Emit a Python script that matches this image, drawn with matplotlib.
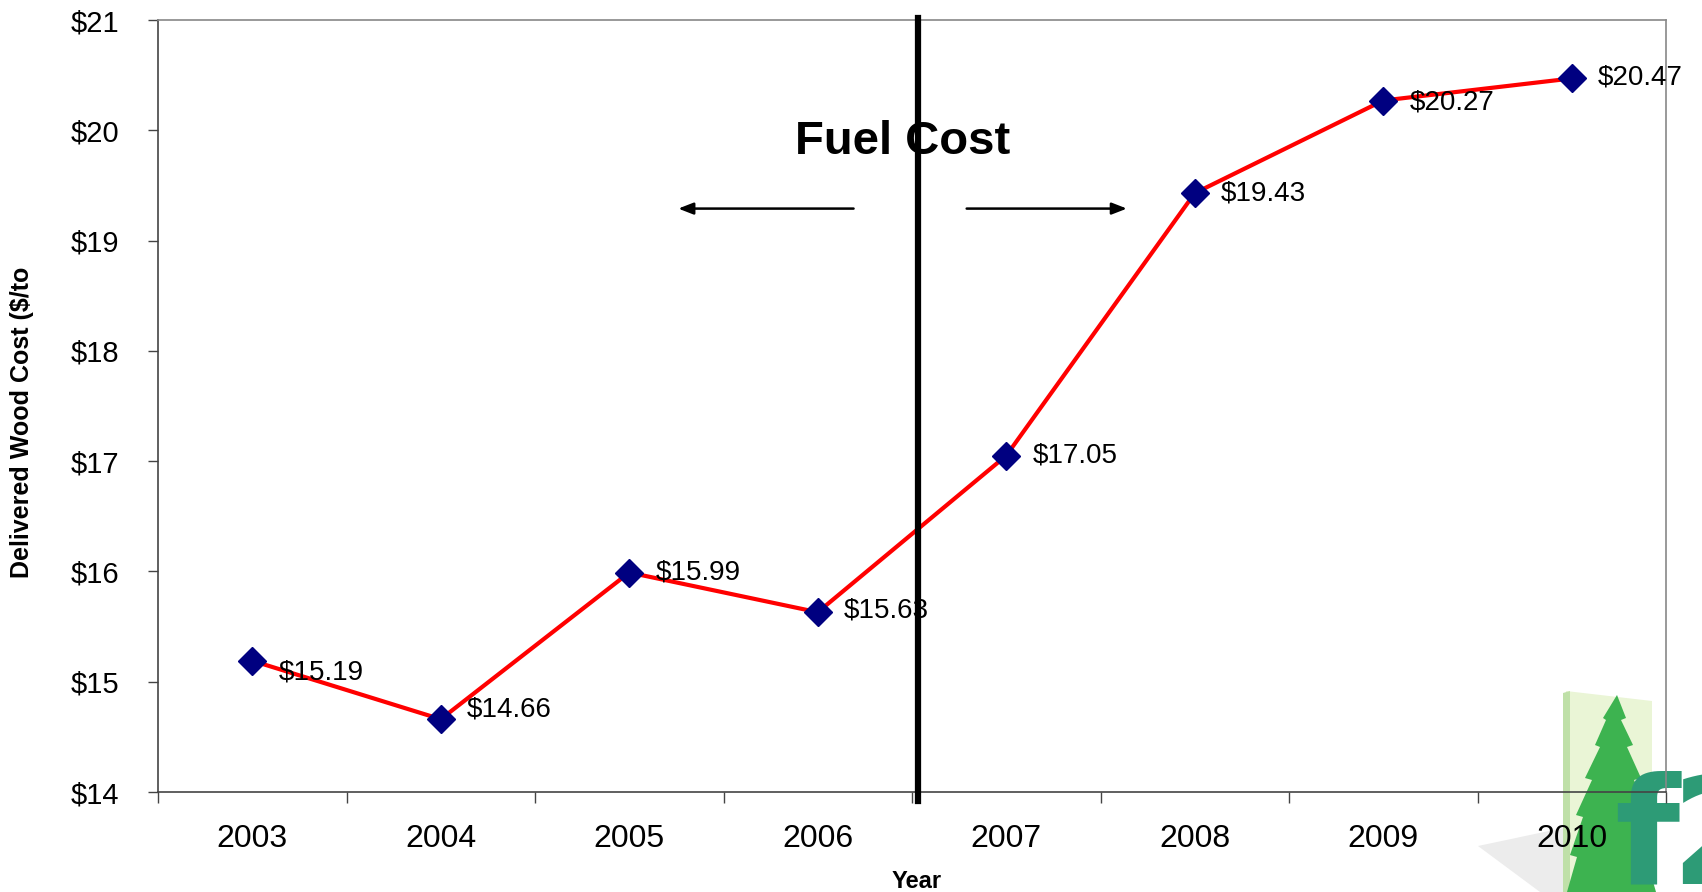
import matplotlib
matplotlib.use("Agg")
import matplotlib.pyplot as plt
from matplotlib.patches import Polygon

plt.rcParams["font.family"] = ["Liberation Sans", "DejaVu Sans"]

years = ["2003", "2004", "2005", "2006", "2007", "2008", "2009", "2010"]
cost = [15.19, 14.66, 15.99, 15.63, 17.05, 19.43, 20.27, 20.47]
cost_labels = ["$15.19", "$14.66", "$15.99", "$15.63", "$17.05", "$19.43", "$20.27", "$20.47"]
y_ticks = [14, 15, 16, 17, 18, 19, 20, 21]

# small vertical nudges (points) for the value labels
label_dy = [-8.5, 7, 0, 1, 0, 0, -1.5, 0.5]

W, H = 1702, 892
fig = plt.figure(figsize=(W / 100, H / 100), dpi=100)

# company logo in the lower right corner (pixel coordinates), drawn under the chart
lg = fig.add_axes([0, 0, 1, 1], zorder=0)
lg.set_xlim(0, W)
lg.set_ylim(H, 0)
lg.axis("off")
lg.add_patch(Polygon([[1478, 846], [1563, 828], [1563, 892], [1540, 892]],
                     color="#ececec", lw=0))
lg.add_patch(Polygon([[1566, 691], [1652, 701], [1652, 892], [1563, 892]],
                     color="#eaf5d6", lw=0))
lg.add_patch(Polygon([[1563, 693], [1570, 691], [1570, 892], [1563, 892]],
                     color="#bfe0a8", lw=0))
tree = [[1617, 695], [1626, 718], [1621, 720], [1633, 745], [1627, 747], [1641, 778],
        [1634, 780], [1648, 815], [1640, 817], [1654, 855], [1646, 857], [1656, 892],
        [1567, 892], [1577, 857], [1570, 855], [1583, 817], [1576, 815],
        [1592, 780], [1585, 778], [1600, 747], [1595, 745], [1606, 720], [1603, 718]]
lg.add_patch(Polygon(tree, color="#3db350", lw=0))
lg.text(1614, 884, "f", ha="left", va="baseline", fontsize=108, fontweight="bold",
        color="#2d9b76", family="DejaVu Sans")
lg.text(1670, 884, "2", ha="left", va="baseline", fontsize=108, fontweight="bold",
        color="#2d9b76", family="DejaVu Sans", clip_on=True)

ax = fig.add_axes([158 / W, 100 / H, 1508 / W, 772 / H], zorder=1)
ax.patch.set_alpha(0)

x = list(range(len(years)))
ax.plot(x, cost, color="#ff0000", lw=3, zorder=3)
ax.plot(x, cost, ls="none", marker="D", ms=14, color="#000080", zorder=4)

for xi, yi, lab, dy in zip(x, cost, cost_labels, label_dy):
    ax.annotate(lab, (xi, yi), xytext=(19, dy), textcoords="offset points",
                ha="left", va="center", fontsize=20, zorder=5)

ax.set_xlim(-0.5, len(years) - 0.5)
ax.set_ylim(14, 21)
ax.set_yticks(y_ticks)
ax.set_yticklabels([f"${v}" for v in y_ticks], fontsize=21)
ax.tick_params(axis="y", length=7, width=1, pad=21, colors="#444444", labelcolor="black")

ax.set_xticks(x)
ax.set_xticklabels(years, fontsize=23)
ax.set_xticks([i - 0.5 for i in range(len(years) + 1)], minor=True)
ax.tick_params(axis="x", which="major", length=0, pad=23)
ax.tick_params(axis="x", which="minor", length=8, width=1, colors="#444444")

for s in ["left", "bottom"]:
    ax.spines[s].set_color("#444444")
    ax.spines[s].set_linewidth(1.2)
for s in ["top", "right"]:
    ax.spines[s].set_color("#888888")
    ax.spines[s].set_linewidth(1.2)

# fuel cost divider and arrows
ax.axvline(3.53, ymin=-0.012, ymax=1.003, color="black", lw=4.5, clip_on=False, zorder=6)
ax.text(3.45, 19.89, "Fuel Cost", ha="center", va="center", fontsize=34,
        fontweight="bold", zorder=5)
arrow = dict(arrowstyle="-|>,head_length=0.9,head_width=0.35", color="black", lw=1.8,
             shrinkA=0, shrinkB=0)
ax.annotate("", xy=(2.26, 19.29), xytext=(3.19, 19.29), arrowprops=arrow)
ax.annotate("", xy=(4.64, 19.29), xytext=(3.79, 19.29), arrowprops=arrow)

fig.text(22 / W, 1 - 422 / H, "Delivered Wood Cost ($/to", rotation=90,
         ha="center", va="center", fontsize=18, fontweight="bold")
fig.text(917 / W, 1 - 882 / H, "Year", ha="center", va="center",
         fontsize=17, fontweight="bold")

fig.savefig("out.png", dpi=100)
